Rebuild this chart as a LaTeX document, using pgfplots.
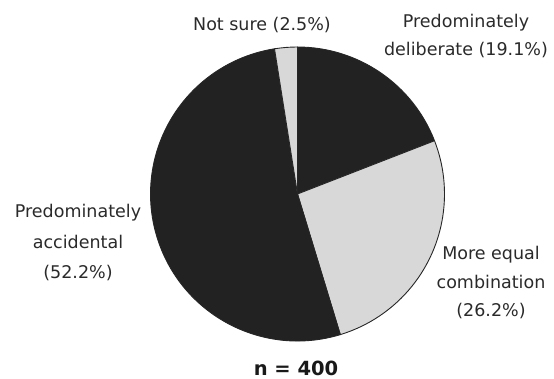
\documentclass[border=0pt]{standalone}
\usepackage{fontspec}
\setmainfont{DejaVu Sans}
\usepackage{pgfplots}
\usepackage{pgfplotstable}
\pgfplotsset{compat=1.18}
\definecolor{darkslice}{HTML}{222222}
\definecolor{lightslice}{HTML}{D8D8D8}
\definecolor{txt}{HTML}{2A2A2A}
\pgfplotstableread{
label value
deliberate 19.1
equal 26.2
accidental 52.2
notsure 2.5
}\pietable
\begin{document}
\begin{tikzpicture}
\pgfplotstablegetelem{0}{value}\of\pietable \let\va\pgfplotsretval
\pgfplotstablegetelem{1}{value}\of\pietable \let\vb\pgfplotsretval
\pgfplotstablegetelem{2}{value}\of\pietable \let\vc\pgfplotsretval
\pgfplotstablegetelem{3}{value}\of\pietable \let\vd\pgfplotsretval
\pgfmathsetmacro{\aA}{90}
\pgfmathsetmacro{\aB}{\aA-3.6*\va}
\pgfmathsetmacro{\aC}{\aB-3.6*\vb}
\pgfmathsetmacro{\aD}{\aC-3.6*\vc}
\pgfmathsetmacro{\aE}{\aD-3.6*\vd}
\def\cx{297.5}\def\cy{185}\def\rr{147}
\begin{axis}[hide axis, scale only axis, width=554pt, height=379pt,
  xmin=0, xmax=554, ymin=0, ymax=379, clip=false]
\filldraw[fill=darkslice, draw=black!85, line width=0.9pt, line join=round]
  (axis cs:\cx,\cy) -- ++(\aA:\rr pt) arc[start angle=\aA, end angle=\aB, radius=\rr pt] -- cycle;
\filldraw[fill=lightslice, draw=black!85, line width=0.9pt, line join=round]
  (axis cs:\cx,\cy) -- ++(\aB:\rr pt) arc[start angle=\aB, end angle=\aC, radius=\rr pt] -- cycle;
\filldraw[fill=darkslice, draw=black!85, line width=0.9pt, line join=round]
  (axis cs:\cx,\cy) -- ++(\aC:\rr pt) arc[start angle=\aC, end angle=\aD, radius=\rr pt] -- cycle;
\filldraw[fill=lightslice, draw=black!85, line width=0.9pt, line join=round]
  (axis cs:\cx,\cy) -- ++(\aD:\rr pt) arc[start angle=\aD, end angle=\aE, radius=\rr pt] -- cycle;
\node[text=txt, font=\fontsize{17.5}{28}\selectfont] at (axis cs:262,354) {Not sure (2.5\%)};
\node[text=txt, align=center, font=\fontsize{17.5}{28}\selectfont] at (axis cs:466,343) {Predominately\\deliberate (19.1\%)};
\node[text=txt, align=center, font=\fontsize{17.5}{30.5}\selectfont] at (axis cs:78,136) {Predominately\\accidental\\(52.2\%)};
\node[text=txt, align=center, font=\fontsize{17.5}{28.5}\selectfont] at (axis cs:491,96) {More equal\\combination\\(26.2\%)};
\node[text=black!90, inner sep=0pt, anchor=base, font=\bfseries\fontsize{19.5}{22}\selectfont] at (axis cs:296,3.5) {n = 400};
\end{axis}
\pgfresetboundingbox
\path (0,0) rectangle (554pt,379pt);
\end{tikzpicture}
\end{document}
